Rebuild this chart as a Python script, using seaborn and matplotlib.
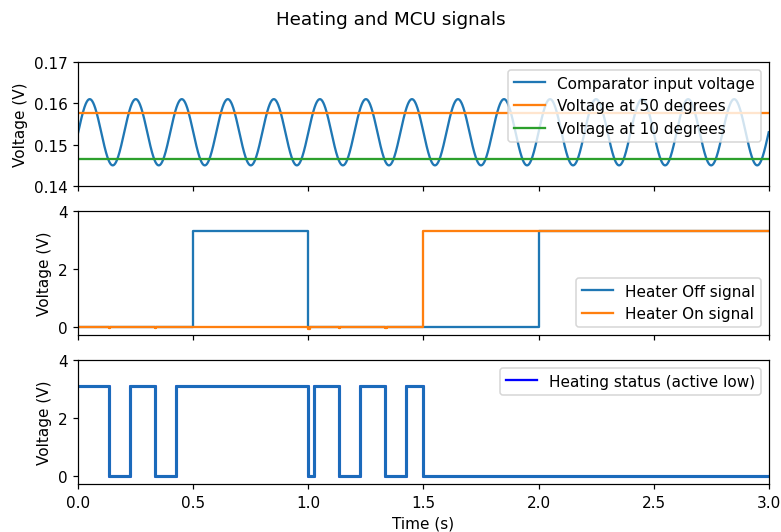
import numpy as np
import pandas as pd
import matplotlib
matplotlib.use("Agg")
import matplotlib.pyplot as plt
import seaborn as sns

# ---- data ----
# comparator input: sine wave parameters
sine_offset = 0.153      # V
sine_amplitude = 0.008   # V
sine_freq = 5.0          # Hz
t_end = 3.0
v_50deg = 0.1577
v_10deg = 0.1466

# heater off signal (step, post)
off_t = [0.0, 0.5, 1.0, 2.0, 3.0]
off_v = [0.0, 3.3, 0.0, 3.3, 3.3]

# heater on signal (step, post) with small glitches
on_t = [0.0, 0.132, 0.137, 0.332, 0.337, 1.0, 1.005, 1.133, 1.138, 1.335, 1.340, 1.5, 3.0]
on_v = [0.0, -0.06, 0.0, -0.06, 0.0, -0.08, 0.0, -0.06, 0.0, -0.06, 0.0, 3.3, 3.3]

# heating status (active low, step, post)
st_t = [0.0, 0.132, 0.224, 0.332, 0.425, 1.0, 1.023, 1.133, 1.226, 1.335, 1.426, 1.5, 3.0]
st_v = [3.1, 0.0, 3.1, 0.0, 3.1, 0.0, 3.1, 0.0, 3.1, 0.0, 3.1, 0.0, 0.0]

t = np.linspace(0, t_end, 3001)
comp = sine_offset + sine_amplitude * np.sin(2 * np.pi * sine_freq * t)

fig, axes = plt.subplots(3, 1, figsize=(7.82 / 1.1, 5.33 / 1.1), dpi=110, sharex=True)
fig.subplots_adjust(left=0.1, right=0.983, top=0.882, bottom=0.09, hspace=0.2)
fig.suptitle("Heating and MCU signals", fontsize=12)

ax = axes[0]
sns.lineplot(x=t, y=comp, ax=ax, color="tab:blue", label="Comparator input voltage", estimator=None)
sns.lineplot(x=[0, t_end], y=[v_50deg, v_50deg], ax=ax, color="tab:orange", label="Voltage at 50 degrees", estimator=None)
sns.lineplot(x=[0, t_end], y=[v_10deg, v_10deg], ax=ax, color="tab:green", label="Voltage at 10 degrees", estimator=None)
ax.set_ylim(0.14, 0.17)
ax.set_yticks([0.14, 0.15, 0.16, 0.17])
ax.set_ylabel("Voltage (V)")
ax.legend(loc="upper right")

ax = axes[1]
sns.lineplot(x=off_t, y=off_v, ax=ax, color="tab:blue", label="Heater Off signal", drawstyle="steps-post", estimator=None)
sns.lineplot(x=on_t, y=on_v, ax=ax, color="tab:orange", label="Heater On signal", drawstyle="steps-post", estimator=None)
ax.set_ylim(-0.29, 4)
ax.set_yticks([0, 2, 4])
ax.set_ylabel("Voltage (V)")
ax.legend(loc="lower right")

ax = axes[2]
sns.lineplot(x=st_t, y=st_v, ax=ax, color="blue", label="Heating status (active low)", drawstyle="steps-post", estimator=None, linewidth=2)
sns.lineplot(x=st_t, y=st_v, ax=ax, color="tab:blue", alpha=0.9, drawstyle="steps-post", estimator=None, linewidth=2)
ax.set_ylim(-0.29, 4)
ax.set_yticks([0, 2, 4])
ax.set_ylabel("Voltage (V)")
ax.set_xlabel("Time (s)")
ax.set_xlim(0, 3)
ax.set_xticks([0.0, 0.5, 1.0, 1.5, 2.0, 2.5, 3.0])
h, l = ax.get_legend_handles_labels()
leg = ax.legend(h[:1], l[:1], loc="upper right")
for line in leg.get_lines():
    line.set_linewidth(1.5)

fig.savefig("out.png", dpi=110)
